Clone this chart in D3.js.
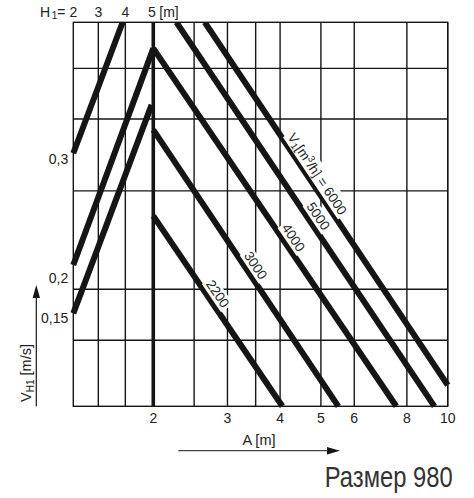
<!DOCTYPE html>
<html><head><meta charset="utf-8">
<script src="https://cdn.jsdelivr.net/npm/d3@7"></script>
<style>
html,body{margin:0;padding:0;background:#fff;}
svg{display:block;font-family:"Liberation Sans",Arial,Helvetica,sans-serif;}
</style></head><body>
<svg id="chart" width="474" height="498"></svg>
<script>
// ---------- data ----------
const aMin = 1.2916, aMax = 10;                 // A [m], log axis extent
const aTicks = [2, 3, 4, 5, 6, 8, 10];          // bottom tick labels
const aGrid = [2.5, 3, 3.5, 4, 5, 6, 8, 10];    // vertical rules
const h1Ticks = [2, 3, 4, 5];                   // H1 [m] top scale
const h1AsA = [1.2916, 1.481, 1.7166, 2];       // H1 values placed on A axis
const posGrid = [0.172, 0.305, 0.561, 0.748, 0.880]; // horizontal rules (relative V_H1 scale)
// V_H1 family (left, rising)
const vNames = ["0,3", "0,2", "0,15"];
const vLabelPos = [0.645, 0.334, 0.229];
const vStartH1 = [2, 2, 2];
const vStartPos = [0.659, 0.368, 0.242];
const vEndH1 = [3.9, 5, 4.94];
const vEndPos = [1, 0.932, 0.785];
// airflow family V1 [m3/h] (right, falling)
const flowNames = ["2200", "3000", "4000", "5000", "6000"];
const flowStartA = [2, 2, 2, 2.27, 2.65];
const flowStartPos = [0.496, 0.72, 0.932, 1, 1];
const flowEndA = [4.05, 5.5, 7.55, 9.3, 10];
const flowEndPos = [0, 0, 0, 0, 0.055];
const flowLabelPos = [0.279, 0.353, 0.425, 0.481, 0.592];

// ---------- layout ----------
const L = 73.3, R = 447.7, T = 22.3, B = 406.3;
const ink = "#151515";
const svg = d3.select("#chart");
const x = d3.scaleLog().domain([aMin, aMax]).range([L, R]);
const y = d3.scaleLinear().domain([0, 1]).range([B, T]);
const h = d3.scaleLinear().domain(h1Ticks).range(h1AsA.map(a => x(a)));

svg.append("defs").append("clipPath").attr("id", "clip")
  .append("rect").attr("x", L - 6).attr("y", T).attr("width", R - L + 12).attr("height", B - T + 6);

const grid = svg.append("g").attr("stroke", ink).attr("stroke-width", 1.4);
grid.selectAll(".vg").data(aGrid).join("line")
  .attr("x1", d => x(d)).attr("x2", d => x(d)).attr("y1", T).attr("y2", B);
grid.selectAll(".hg").data(h1Ticks.slice(1, 3)).join("line")
  .attr("x1", d => h(d)).attr("x2", d => h(d)).attr("y1", T).attr("y2", B);
grid.selectAll(".yg").data(posGrid).join("line")
  .attr("x1", L).attr("x2", R).attr("y1", d => y(d)).attr("y2", d => y(d));
grid.append("rect").attr("x", L).attr("y", T).attr("width", R - L).attr("height", B - T).attr("fill", "none");

// thick A=2 / H1=5 line
svg.append("line").attr("x1", x(2)).attr("x2", x(2)).attr("y1", T).attr("y2", B)
  .attr("stroke", ink).attr("stroke-width", 3.6);

const linesG = svg.append("g").attr("clip-path", "url(#clip)")
  .attr("fill", "none").attr("stroke", ink).attr("stroke-width", 6).attr("stroke-linecap", "butt");

const flowPts = flowNames.map((n, i) => [[x(flowStartA[i]), y(flowStartPos[i])], [x(flowEndA[i]), y(flowEndPos[i])]]);
const vPts = vNames.map((n, i) => [[h(vStartH1[i]), y(vStartPos[i])], [h(vEndH1[i]), y(vEndPos[i])]]);
const lineGen = d3.line();
linesG.selectAll(".f").data(flowPts).join("path").attr("d", d => lineGen(d));
linesG.selectAll(".v").data(vPts).join("path").attr("d", d => lineGen(d));

// labels along airflow lines
const fs = 14;
flowNames.forEach((n, i) => {
  const [p0, p1] = flowPts[i];
  const ly = y(flowLabelPos[i]);
  const t = (ly - p0[1]) / (p1[1] - p0[1]);
  const lx = p0[0] + t * (p1[0] - p0[0]);
  const dx = p1[0] - p0[0], dy = p1[1] - p0[1], len = Math.hypot(dx, dy);
  const off = 9.5;
  const cx = lx + off * dy / len, cy = ly - off * dx / len;
  const ang = Math.atan2(dy, dx) * 180 / Math.PI;
  const g = svg.append("g").attr("transform", `translate(${cx},${cy}) rotate(${ang})`);
  const rect = g.append("rect").attr("fill", "#fff");
  const txt = g.append("text").attr("text-anchor", "middle").attr("dominant-baseline", "central")
    .attr("font-size", 13.5).attr("fill", "#222");
  if (i === flowNames.length - 1) {
    txt.append("tspan").text("V");
    txt.append("tspan").attr("font-size", 13.5 * 0.7).attr("dy", 3).text("1");
    txt.append("tspan").attr("dy", -3).text("[m");
    txt.append("tspan").attr("font-size", 13.5 * 0.7).attr("dy", -4).text("3");
    txt.append("tspan").attr("dy", 4).text("/h] = " + n);
  } else {
    txt.text(n);
  }
  const bb = txt.node().getBBox();
  rect.attr("x", bb.x - 2).attr("y", bb.y).attr("width", bb.width + 4).attr("height", bb.height);
});

// V_H1 labels on left
svg.append("g").attr("font-size", fs).attr("fill", "#222").attr("text-anchor", "end")
  .selectAll("text").data(vNames).join("text")
  .attr("x", L - 5).attr("y", (d, i) => y(vLabelPos[i])).attr("dominant-baseline", "central").text(d => d);

// bottom A ticks
svg.append("g").attr("font-size", fs).attr("fill", "#222").attr("text-anchor", "middle")
  .selectAll("text").data(aTicks).join("text")
  .attr("x", d => x(d)).attr("y", B + 17).text(d => d);

// top H1 scale
const topG = svg.append("g").attr("font-size", fs).attr("fill", "#222");
topG.selectAll(".ht").data(h1Ticks).join("text").attr("text-anchor", "middle")
  .attr("x", d => h(d) - (d === 5 ? 1.5 : 0)).attr("y", 16.7).text(d => d);
const hl = topG.append("text").attr("x", 40).attr("y", 16.7);
hl.append("tspan").text("H");
hl.append("tspan").attr("font-size", 10).attr("dy", 2).attr("dx", 1.5).text("1");
hl.append("tspan").attr("dy", -2).text("=");
topG.append("text").attr("x", h(5) + 6).attr("y", 16.7).text("[m]");

// y axis title + arrow
const yt = svg.append("text").attr("transform", "translate(31,373) rotate(-90)")
  .attr("text-anchor", "middle").attr("font-size", 14.5).attr("fill", "#222");
yt.append("tspan").text("V");
yt.append("tspan").attr("font-size", 10).attr("dy", 3).text("H1");
yt.append("tspan").attr("dy", -3).text(" [m/s]");
svg.append("line").attr("x1", 36.3).attr("x2", 36.3).attr("y1", B).attr("y2", 295)
  .attr("stroke", ink).attr("stroke-width", 1.2);
svg.append("path").attr("d", "M36.3,285 L32.6,298 L40,298 Z").attr("fill", ink);

// x axis title + arrow
svg.append("text").attr("x", 259).attr("y", 445).attr("text-anchor", "middle")
  .attr("font-size", 14.5).attr("fill", "#222").text("A [m]");
svg.append("line").attr("x1", 178.3).attr("x2", 330).attr("y1", 450.7).attr("y2", 450.7)
  .attr("stroke", "#444").attr("stroke-width", 1.2);
svg.append("path").attr("d", "M340,450.7 L327,447 L327,454.4 Z").attr("fill", ink);

// footer (condensed face)
svg.append("text").attr("transform", "translate(452.7,486.5) scale(0.82,1)").attr("text-anchor", "end")
  .attr("font-size", 29).attr("fill", "#333").text("Размер 980");
</script>
</body></html>
